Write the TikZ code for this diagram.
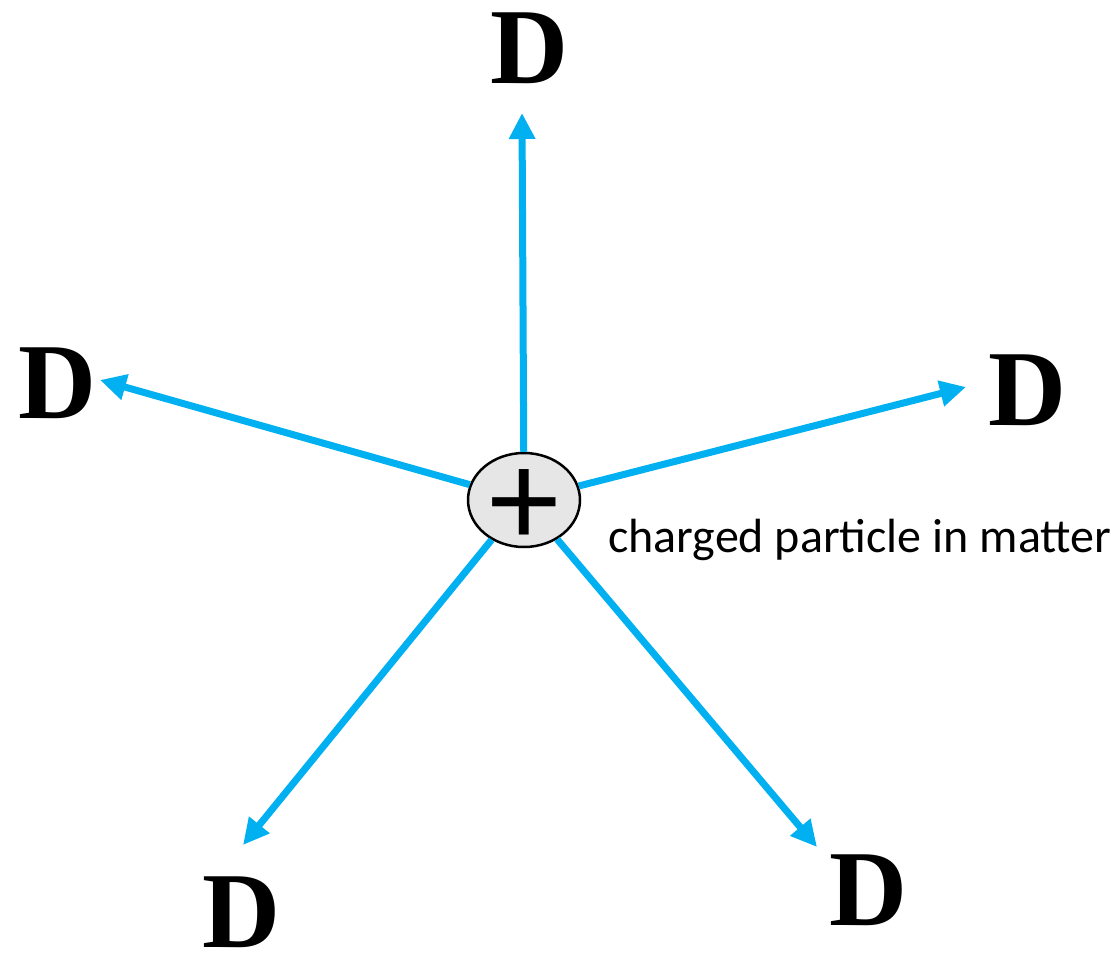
\documentclass[tikz,border=0pt]{standalone}
\usepackage{fontspec}
\setmainfont{Liberation Serif}
\newfontfamily\calib{Carlito}
\usetikzlibrary{arrows.meta,shapes.geometric}
\definecolor{ray}{HTML}{00B0F0}
\definecolor{pfill}{HTML}{E6E6E6}
\tikzset{
  ray/.style={draw=ray, line width=7pt, -{Triangle[length=26pt,width=25pt]}},
  dlabel/.style={font=\fontsize{108}{108}\selectfont\bfseries, inner sep=0pt},
  particle/.style={ellipse, draw=black, line width=2.5pt, fill=pfill, minimum width=112pt, minimum height=94pt, inner sep=0pt}
}
\begin{document}
\begin{tikzpicture}[x=1pt,y=-1pt]
\useasboundingbox (0,0) rectangle (1120,959);
\coordinate (tU) at (522,113);
\coordinate (tL) at (100,380);
\coordinate (tR) at (966,387);
\coordinate (tBL) at (243,845);
\coordinate (tBR) at (817,847);
\node[particle] (c) at (524,500) {};
\draw[ray] (c) -- (tU);
\draw[ray] (c) -- (tL);
\draw[ray] (c) -- (tR);
\draw[ray] (c) -- (tBL);
\draw[ray] (c) -- (tBR);
\node[font=\calib\fontsize{140}{140}\selectfont, inner sep=0pt] (plus) at (524,508) {+};
\node[dlabel] (dU) at (529,48) {D};
\node[dlabel] (dL) at (57,383) {D};
\node[dlabel] (dR) at (1027,390) {D};
\node[dlabel] (dBL) at (241,912) {D};
\node[dlabel] (dBR) at (868,890) {D};
\node[font=\calib\fontsize{48}{48}\selectfont, anchor=west, inner sep=0pt] (lbl) at (608,540) {charged particle in matter};
\end{tikzpicture}
\end{document}
